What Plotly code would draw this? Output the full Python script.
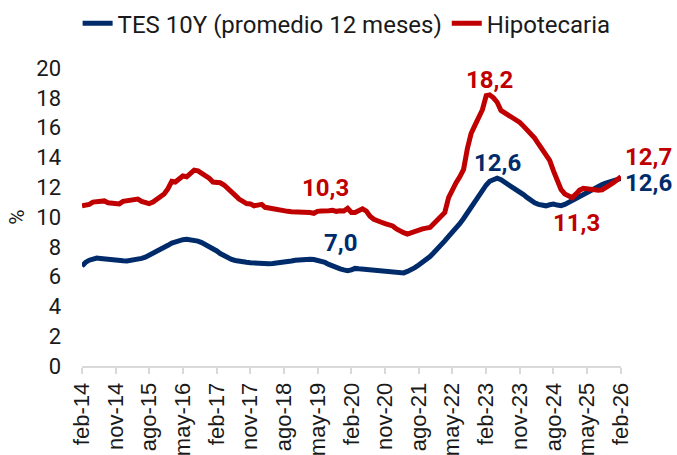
import pandas as pd
import plotly.graph_objects as go

# Monthly dates feb-14 .. feb-26
fechas = pd.date_range('2014-02-01', periods=145, freq='MS')

tick_labels = ['feb-14', 'nov-14', 'ago-15', 'may-16', 'feb-17', 'nov-17', 'ago-18', 'may-19',
               'feb-20', 'nov-20', 'ago-21', 'may-22', 'feb-23', 'nov-23', 'ago-24', 'may-25', 'feb-26']

# TES 10Y, 12-month average (%)
tes_10y = [
    6.70, 6.95, 7.10, 7.20, 7.25, 7.22, 7.18, 7.14, 7.10, 7.08, 7.07, 7.06,
    7.05, 7.07, 7.10, 7.15, 7.22, 7.30, 7.42, 7.55, 7.68, 7.82, 7.95, 8.10,
    8.25, 8.35, 8.42, 8.48, 8.50, 8.48, 8.45, 8.38, 8.28, 8.15, 8.02, 7.90,
    7.72, 7.55, 7.40, 7.25, 7.15, 7.08, 7.02, 6.99, 6.96, 6.93, 6.90, 6.88,
    6.86, 6.85, 6.86, 6.88, 6.90, 6.92, 6.95, 7.00, 7.05, 7.10, 7.13, 7.15,
    7.17, 7.17, 7.15, 7.10, 7.05, 6.95, 6.82, 6.70, 6.60, 6.52, 6.45, 6.40,
    6.45, 6.55, 6.52, 6.50, 6.52, 6.50, 6.48, 6.46, 6.44, 6.42, 6.38, 6.34,
    6.30, 6.27, 6.25, 6.35, 6.45, 6.60, 6.78, 6.95, 7.15, 7.35, 7.60, 7.85,
    8.10, 8.40, 8.70, 8.95, 9.25, 9.55, 9.90, 10.30, 10.70, 11.10, 11.50, 11.85,
    12.15, 12.40, 12.55, 12.60, 12.50, 12.35, 12.20, 12.05, 11.90, 11.70, 11.50, 11.30,
    11.10, 10.95, 10.85, 10.78, 10.75, 10.82, 10.87, 10.80, 10.76, 10.85, 10.98, 11.12,
    11.28, 11.45, 11.58, 11.72, 11.85, 11.98, 12.08, 12.18, 12.28, 12.38, 12.48, 12.56,
    12.60,
]

# Mortgage rate (%)
hipotecaria = [
    10.75, 10.78, 10.85, 11.00, 11.05, 11.02, 11.08, 10.95, 10.90, 10.85, 10.88, 11.05,
    11.08, 11.06, 11.12, 11.20, 11.05, 10.95, 10.90, 11.00, 11.15, 11.35, 11.55, 11.90,
    12.40, 12.35, 12.55, 12.75, 12.70, 12.95, 13.15, 13.10, 12.95, 12.80, 12.60, 12.35,
    12.35, 12.30, 12.15, 11.95, 11.70, 11.45, 11.20, 11.00, 10.90, 10.88, 10.75, 10.80,
    10.85, 10.65, 10.60, 10.50, 10.45, 10.42, 10.40, 10.38, 10.36, 10.36, 10.35, 10.30,
    10.36, 10.30, 10.25, 10.38, 10.40, 10.38, 10.42, 10.45, 10.38, 10.42, 10.40, 10.58,
    10.30, 10.30, 10.45, 10.55, 10.40, 10.05, 9.85, 9.78, 9.65, 9.55, 9.48, 9.40,
    9.20, 9.05, 8.95, 8.85, 8.95, 9.05, 9.15, 9.20, 9.25, 9.30, 9.55, 9.80,
    10.00, 10.30, 11.30, 11.90, 12.30, 12.70, 13.20, 14.60, 15.60, 16.15, 16.60, 17.20,
    18.15, 18.20, 18.00, 17.70, 17.15, 17.00, 16.85, 16.70, 16.55, 16.35, 16.10, 15.85,
    15.60, 15.30, 14.90, 14.50, 14.20, 13.80, 13.10, 12.40, 11.85, 11.55, 11.38, 11.30,
    11.55, 11.80, 11.92, 11.88, 11.80, 11.78, 11.80, 11.82, 11.95, 12.15, 12.30, 12.50,
    12.70,
]

AZUL = '#002B6B'
ROJO = '#C00000'
TEXTO = '#1a1a1a'

fig = go.Figure()

fig.add_trace(go.Scatter(
    x=fechas, y=tes_10y, mode='lines', name='TES 10Y (promedio 12 meses)',
    line=dict(color=AZUL, width=5), cliponaxis=False
))
fig.add_trace(go.Scatter(
    x=fechas, y=hipotecaria, mode='lines', name='Hipotecaria',
    line=dict(color=ROJO, width=5), cliponaxis=False
))

# Value labels
etiquetas = [
    (fechas[109], 19.2, '18,2', ROJO, 'center'),
    (fechas[111], 13.6, '12,6', AZUL, 'center'),
    (fechas[65], 11.95, '10,3', ROJO, 'center'),
    (fechas[69], 8.25, '7,0', AZUL, 'center'),
    (fechas[132], 9.6, '11,3', ROJO, 'center'),
    (fechas[144], 14.0, '12,7', ROJO, 'left'),
    (fechas[144], 12.3, '12,6', AZUL, 'left'),
]
for x, y, texto, color, anchor in etiquetas:
    fig.add_annotation(
        x=x, y=y, text=f'<b>{texto}</b>', showarrow=False,
        xanchor=anchor, yanchor='middle',
        xshift=2 if anchor == 'left' else 0,
        font=dict(color=color, size=24, family='Roboto')
    )

fig.update_layout(
    width=677, height=455,
    margin=dict(l=82, r=56, t=68, b=89, autoexpand=False),
    plot_bgcolor='white', paper_bgcolor='white',
    font=dict(family='Roboto', size=22, color=TEXTO),
    showlegend=True,
    legend=dict(orientation='h', x=0.512, xanchor='center', xref='container',
                y=0.948, yanchor='middle', yref='container',
                font=dict(size=24, color=TEXTO), tracegroupgap=0),
    xaxis=dict(
        range=[fechas[0], fechas[-1]], automargin=False,
        tickmode='array', tickvals=list(fechas[::9]), ticktext=tick_labels,
        tickangle=-90, tickfont=dict(size=22, family='Liberation Sans', color=TEXTO),
        showgrid=False, showline=True, linecolor='#d9d9d9', linewidth=2,
        ticks='outside', tickcolor='#d9d9d9', ticklen=6, tickwidth=2,
    ),
    yaxis=dict(
        range=[0, 20], dtick=2, showgrid=False, zeroline=False, automargin=False,
        tickfont=dict(size=22), ticks='', ticklabelstandoff=20,
        title=dict(text='%', font=dict(size=21), standoff=5),
    ),
)

# remove the default page margin so the figure sits at the window's corner
fig.write_html('out.html', config={'displayModeBar': False},
               post_script="document.body.style.margin='0';")
